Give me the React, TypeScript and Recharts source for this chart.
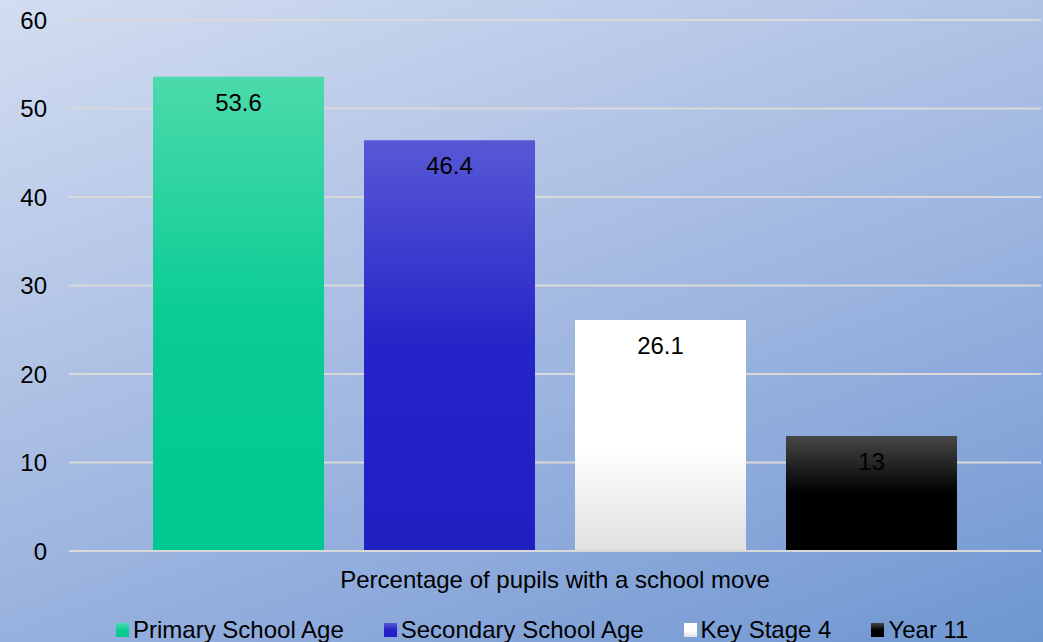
import React from 'react';
import { BarChart, Bar, XAxis, YAxis, CartesianGrid, Legend, LabelList } from 'recharts';

const categories = ['Percentage of pupils with a school move'];
const seriesNames = ['Primary School Age', 'Secondary School Age', 'Key Stage 4', 'Year 11'];
const seriesKeys = ['primary', 'secondary', 'ks4', 'y11'];
const seriesValues = [53.6, 46.4, 26.1, 13];
const yTicks = [0, 10, 20, 30, 40, 50, 60];

const gradients = [
  { id: 'gPrimary', top: '#4cdaab', mid: '#0acc94', bottom: '#00c890', midAt: '50%' },
  { id: 'gSecondary', top: '#5858d6', mid: '#2424c8', bottom: '#1f1fc2', midAt: '50%' },
  { id: 'gKs4', top: '#ffffff', mid: '#ffffff', bottom: '#e0e0e0', midAt: '55%' },
  { id: 'gY11', top: '#474747', mid: '#000000', bottom: '#000000', midAt: '50%' },
];

const data = categories.map((name) => {
  const row: Record<string, string | number> = { name };
  seriesKeys.forEach((k, i) => {
    row[k] = seriesValues[i];
  });
  return row;
});

const FONT = '"Liberation Sans", Arial, sans-serif';

const LegendContent = () => (
  <div style={{ display: 'flex', alignItems: 'center', fontFamily: FONT, fontSize: 24, color: '#000', whiteSpace: 'nowrap' }}>
    {seriesNames.map((n, i) => (
      <div key={n} style={{ display: 'flex', alignItems: 'center', marginRight: i < seriesNames.length - 1 ? 40 : 0 }}>
        <svg width={13} height={14} style={{ marginRight: 4 }}>
          <rect x={0} y={0} width={13} height={14} fill={`url(#${gradients[i].id})`} />
        </svg>
        <span style={{ lineHeight: '24px' }}>{n}</span>
      </div>
    ))}
  </div>
);

export default function App() {
  return (
    <div
      style={{
        position: 'fixed',
        left: 0,
        top: 0,
        width: 1043,
        height: 642,
        overflow: 'hidden',
        background: 'linear-gradient(160deg, #d2ddf0 0%, #a9bde3 45%, #8aa8da 75%, #6e96d1 100%)',
      }}
    >
      <BarChart
        width={1043}
        height={642}
        data={data}
        margin={{ top: 20, right: 2, left: 0, bottom: 0 }}
        barCategoryGap={84}
        barGap={40}
      >
        <defs>
          {gradients.map((g) => (
            <linearGradient key={g.id} id={g.id} x1="0" y1="0" x2="0" y2="1">
              <stop offset="0%" stopColor={g.top} />
              <stop offset={g.midAt} stopColor={g.mid} />
              <stop offset="100%" stopColor={g.bottom} />
            </linearGradient>
          ))}
        </defs>
        <CartesianGrid vertical={false} stroke="#d9d9d9" strokeWidth={2} />
        <XAxis
          dataKey="name"
          axisLine={{ stroke: '#d9d9d9', strokeWidth: 2 }}
          tickLine={false}
          tickMargin={14}
          tick={{ fill: '#000', fontSize: 24, fontFamily: FONT }}
          height={91}
        />
        <YAxis
          domain={[0, 60]}
          ticks={yTicks}
          axisLine={false}
          tickLine={false}
          tickMargin={16}
          width={69}
          tick={{ fill: '#000', fontSize: 24, fontFamily: FONT }}
        />
        <Legend
          layout="horizontal"
          verticalAlign="middle"
          align="center"
          content={<LegendContent />}
          wrapperStyle={{ top: 618, left: 116, width: 'auto', height: 24 }}
        />
        {seriesKeys.map((k, i) => (
          <Bar key={k} dataKey={k} name={seriesNames[i]} fill={`url(#${gradients[i].id})`} isAnimationActive={false}>
            <LabelList
              dataKey={k}
              position="insideTop"
              offset={17}
              fill="#000"
              style={{ fontSize: 24, fontFamily: FONT }}
            />
          </Bar>
        ))}
      </BarChart>
    </div>
  );
}
